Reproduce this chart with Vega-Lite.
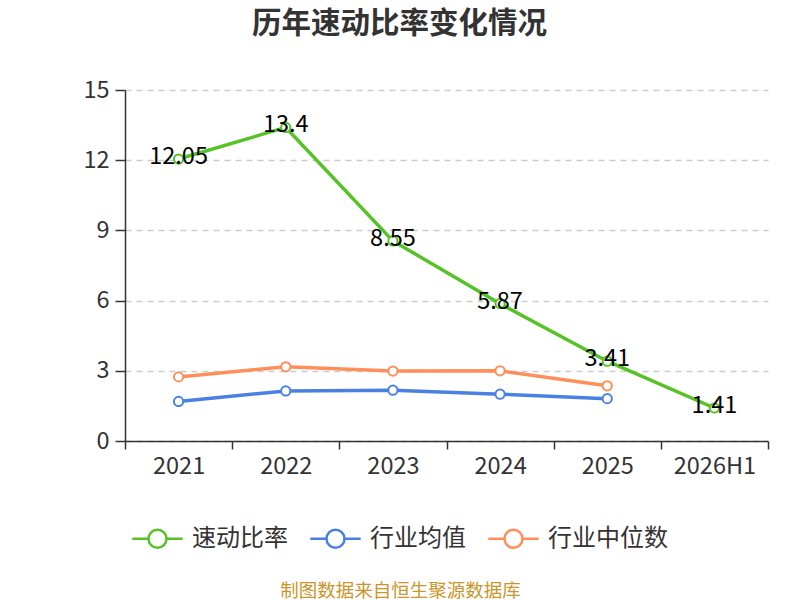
{
  "$schema": "https://vega.github.io/schema/vega-lite/v6.json",
  "autosize": "none",
  "width": 643,
  "height": 351,
  "padding": {"left": 125, "top": 90, "right": 32, "bottom": 159},
  "background": "white",
  "config": {
    "font": "Noto Sans CJK SC",
    "view": {"stroke": null}
  },
  "title": {
    "text": "历年速动比率变化情况",
    "anchor": "middle",
    "dx": -47,
    "offset": 39,
    "fontSize": 29.5,
    "fontWeight": "bold",
    "color": "#333333"
  },
  "data": {
    "values": [
      {"year": "2021", "series": "速动比率", "value": 12.05},
      {"year": "2022", "series": "速动比率", "value": 13.4},
      {"year": "2023", "series": "速动比率", "value": 8.55},
      {"year": "2024", "series": "速动比率", "value": 5.87},
      {"year": "2025", "series": "速动比率", "value": 3.41},
      {"year": "2026H1", "series": "速动比率", "value": 1.41},
      {"year": "2021", "series": "行业均值", "value": 1.69},
      {"year": "2022", "series": "行业均值", "value": 2.14},
      {"year": "2023", "series": "行业均值", "value": 2.17},
      {"year": "2024", "series": "行业均值", "value": 2.0},
      {"year": "2025", "series": "行业均值", "value": 1.81},
      {"year": "2021", "series": "行业中位数", "value": 2.74},
      {"year": "2022", "series": "行业中位数", "value": 3.17},
      {"year": "2023", "series": "行业中位数", "value": 2.99},
      {"year": "2024", "series": "行业中位数", "value": 3.0},
      {"year": "2025", "series": "行业中位数", "value": 2.36}
    ]
  },
  "encoding": {
    "x": {
      "field": "year",
      "type": "ordinal",
      "bandPosition": 0.5,
      "sort": ["2021", "2022", "2023", "2024", "2025", "2026H1"],
      "scale": {"type": "band", "paddingInner": 0, "paddingOuter": 0},
      "axis": {
        "title": "制图数据来自恒生聚源数据库",
        "titleX": 275,
        "titleY": 149,
        "titleAlign": "center",
        "titleBaseline": "middle",
        "titleFontSize": 18.5,
        "titleFontWeight": "normal",
        "titleColor": "#c9962c",
        "labelAngle": 0,
        "labelFontSize": 23.5,
        "labelColor": "#333333",
        "labelPadding": 5,
        "tickBand": "extent",
        "tickSize": 8,
        "tickColor": "#333333",
        "tickWidth": 1.5,
        "domainColor": "#333333",
        "domainWidth": 1.5,
        "grid": false
      }
    },
    "y": {
      "field": "value",
      "type": "quantitative",
      "scale": {"domain": [0, 15], "nice": false},
      "axis": {
        "title": null,
        "values": [0, 3, 6, 9, 12, 15],
        "labelFontSize": 23.5,
        "labelColor": "#333333",
        "labelPadding": 6,
        "tickSize": 10,
        "tickColor": "#333333",
        "tickWidth": 1.5,
        "domainColor": "#333333",
        "domainWidth": 1.5,
        "grid": true,
        "gridColor": "#cccccc",
        "gridDash": [6, 5],
        "gridWidth": 1.3
      }
    },
    "color": {
      "field": "series",
      "type": "nominal",
      "sort": ["速动比率", "行业均值", "行业中位数"],
      "scale": {
        "domain": ["速动比率", "行业均值", "行业中位数"],
        "range": ["#56c226", "#4a80e2", "#ff8f5a"]
      },
      "legend": {
        "title": null,
        "orient": "none",
        "legendX": 13,
        "legendY": 429,
        "direction": "horizontal",
        "labelFontSize": 24,
        "labelColor": "#333333",
        "labelOffset": 15,
        "columnPadding": 17,
        "symbolType": "M-1.4,0L-0.5,0M0.5,0L1.4,0M0.5,0A0.5,0.5,0,1,1,-0.5,0A0.5,0.5,0,1,1,0.5,0",
        "symbolSize": 1296,
        "symbolStrokeWidth": 2.5,
        "symbolFillColor": "white"
      }
    }
  },
  "layer": [
    {
      "mark": {"type": "line", "strokeWidth": 3.5}
    },
    {
      "mark": {"type": "point", "filled": false, "fill": "white", "fillOpacity": 1, "opacity": 1, "size": 85, "strokeWidth": 2}
    },
    {
      "transform": [{"filter": "datum.series === '速动比率'"}],
      "mark": {"type": "text", "fontSize": 23.5, "color": "#000000", "baseline": "middle", "align": "center", "dy": -2},
      "encoding": {
        "text": {"field": "value", "type": "quantitative"},
        "color": {"value": "#000000"}
      }
    }
  ]
}
